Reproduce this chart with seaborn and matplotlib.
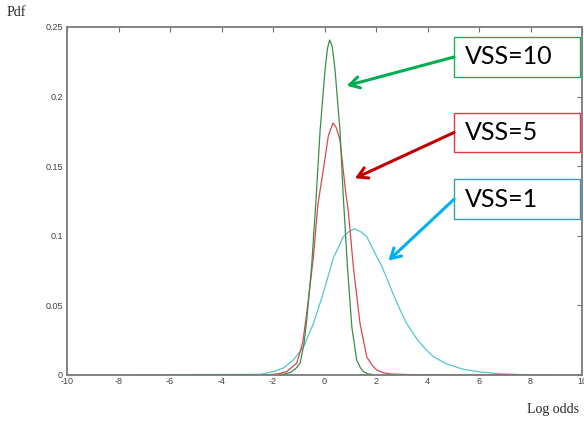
import numpy as np
import pandas as pd
import seaborn as sns
import matplotlib.pyplot as plt
from matplotlib.patches import Rectangle

# values (log odds vs pdf)
vss10_x = [-2.3, -1.6, -1.3, -1.1, -0.95, -0.8, -0.69, -0.5, -0.33, -0.17, 0.02, 0.12, 0.2,
           0.3, 0.41, 0.6, 0.73, 0.89, 1.06, 1.25, 1.4, 1.51, 1.7, 1.9]
vss10_y = [0, 0.0005, 0.002, 0.005, 0.0084, 0.022, 0.0395, 0.078, 0.126, 0.176, 0.219, 0.235, 0.2407,
           0.236, 0.219, 0.176, 0.128, 0.078, 0.0347, 0.0108, 0.005, 0.0024, 0.0008, 0.0002]

vss5_x = [-2.3, -1.8, -1.47, -1.08, -0.85, -0.69, -0.43, -0.26, -0.05, 0.15, 0.33, 0.45, 0.6,
          0.83, 0.92, 1.12, 1.38, 1.64, 1.85, 2.03, 2.3, 2.6, 3.5, 5.0, 7.7]
vss5_y = [0, 0.0008, 0.0024, 0.0084, 0.0228, 0.0443, 0.085, 0.122, 0.147, 0.172, 0.181, 0.178, 0.169,
          0.13, 0.1185, 0.0778, 0.037, 0.0131, 0.007, 0.0036, 0.0015, 0.0007, 0.0002, 0.0001, 0]

vss1_x = [-10, -2.5, -1.99, -1.6, -1.21, -0.82, -0.43, -0.05, 0.34, 0.73, 0.95, 1.16, 1.4, 1.64,
          2.03, 2.2, 2.41, 2.67, 2.93, 3.19, 3.58, 3.9, 4.23, 4.75, 5.39, 6.04, 6.8, 7.7, 10]
vss1_y = [0, 0.0005, 0.0024, 0.005, 0.0108, 0.02, 0.037, 0.0587, 0.0838, 0.0994, 0.103, 0.105, 0.103, 0.0994,
          0.085, 0.079, 0.070, 0.058, 0.047, 0.0371, 0.026, 0.019, 0.0131, 0.0079, 0.0041, 0.0022, 0.0009,
          0.0003, 0]

xticks = [-10, -8, -6, -4, -2, 0, 2, 4, 6, 8, 10]
xtick_labels = ['-10', '-8', '-6', '-4', '-2', '0', '2', '4', '6', '8', '10']
yticks = [0, 0.05, 0.1, 0.15, 0.2, 0.25]
ytick_labels = ['0', '0.05', '0.1', '0.15', '0.2', '0.25']

df = pd.concat([
    pd.DataFrame({'x': vss1_x, 'pdf': vss1_y, 'vss': 'VSS=1'}),
    pd.DataFrame({'x': vss5_x, 'pdf': vss5_y, 'vss': 'VSS=5'}),
    pd.DataFrame({'x': vss10_x, 'pdf': vss10_y, 'vss': 'VSS=10'}),
])

sns.set_style('white')
plt.rcParams['axes.unicode_minus'] = False

fig = plt.figure(figsize=(5.84, 4.21), dpi=100)
ax = fig.add_axes([67 / 584, 46 / 421, 515 / 584, 348 / 421])

sns.lineplot(data=df, x='x', y='pdf', hue='vss', ax=ax, linewidth=0.9, legend=False,
             palette={'VSS=1': '#55c6c8', 'VSS=5': '#d9474f', 'VSS=10': '#3a8f4a'})

ax.set_xlim(-10, 10)
ax.set_ylim(0, 0.25)
ax.set_xticks(xticks)
ax.set_xticklabels(xtick_labels)
ax.set_yticks(yticks)
ax.set_yticklabels(ytick_labels)
ax.set_xlabel('')
ax.set_ylabel('')
ax.tick_params(direction='in', length=3.5, width=0.8, color='#707070', labelsize=6.5,
               labelcolor='#404040', top=True, right=True)
ax.tick_params(axis='x', pad=1.5)
ax.tick_params(axis='y', pad=3)
for lab in ax.get_xticklabels() + ax.get_yticklabels():
    lab.set_family('Liberation Sans')
for sp in ax.spines.values():
    sp.set_color('#7a7a7a')
    sp.set_linewidth(1.3)

# boxed labels with arrows
boxes = [
    ('VSS=10', 0.2139, 0.243, '#1fae5a', '#00b050', (0.86, 0.2078)),
    ('VSS=5', 0.16, 0.1884, '#e23a44', '#c00000', (1.18, 0.1413)),
    ('VSS=1', 0.1119, 0.1406, '#3a9ab8', '#00b0f0', (2.48, 0.0821)),
]
for label, y0, y1, edge, acol, tip in boxes:
    ax.add_patch(Rectangle((5.03, y0), 4.89, y1 - y0, facecolor='white', edgecolor=edge,
                           linewidth=1.0, zorder=5))
    ax.text(5.46, (y0 + y1) / 2, label, family='Lato', fontsize=18, va='center', ha='left',
            color='black', zorder=6)
    ax.annotate('', xy=tip, xytext=(5.03, (y0 + y1) / 2),
                arrowprops=dict(arrowstyle='->,head_length=0.7,head_width=0.4', color=acol,
                                lw=2.2, shrinkA=0, shrinkB=0), zorder=6)

fig.text(7 / 584, 1 - 13 / 421, 'Pdf', family='Liberation Serif', fontsize=10, va='center')
fig.text(527 / 584, 1 - 410 / 421, 'Log odds', family='Liberation Serif', fontsize=10, va='center')

fig.savefig('out.png', dpi=100)
